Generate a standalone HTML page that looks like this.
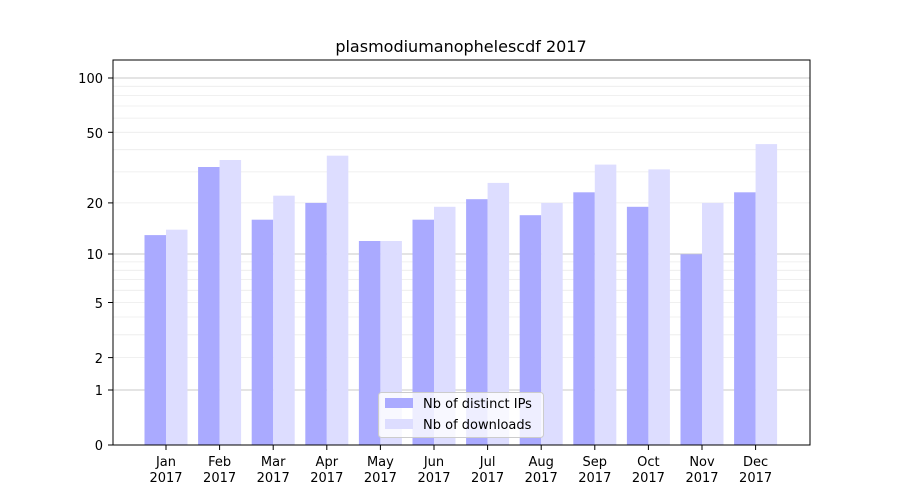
<!DOCTYPE html>
<html><head><meta charset="utf-8"><style>body{margin:0;background:#fff}svg{display:block}text{font-family:"DejaVu Sans","Liberation Sans",sans-serif;font-size:13px;fill:#000}</style></head><body>
<svg width="900" height="500" xmlns="http://www.w3.org/2000/svg">
<rect width="900" height="500" fill="#fff"/>
<g stroke="#ebebeb" stroke-width="0.8">
<line x1="113" x2="810" y1="357.6" y2="357.6"/><line x1="113" x2="810" y1="334.8" y2="334.8"/><line x1="113" x2="810" y1="317" y2="317"/><line x1="113" x2="810" y1="302.5" y2="302.5"/><line x1="113" x2="810" y1="290.3" y2="290.3"/><line x1="113" x2="810" y1="279.6" y2="279.6"/><line x1="113" x2="810" y1="270.3" y2="270.3"/><line x1="113" x2="810" y1="261.9" y2="261.9"/>
<line x1="113" x2="810" y1="202.9" y2="202.9"/><line x1="113" x2="810" y1="171.9" y2="171.9"/><line x1="113" x2="810" y1="149.7" y2="149.7"/><line x1="113" x2="810" y1="132.3" y2="132.3"/><line x1="113" x2="810" y1="118.1" y2="118.1"/><line x1="113" x2="810" y1="106" y2="106"/><line x1="113" x2="810" y1="95.6" y2="95.6"/><line x1="113" x2="810" y1="86.3" y2="86.3"/>
</g>
<g stroke="#c8c8c8" stroke-width="1">
<line x1="113" x2="810" y1="390" y2="390"/><line x1="113" x2="810" y1="254" y2="254"/><line x1="113" x2="810" y1="78" y2="78"/>
</g>
<g fill="#aaaaff">
<rect x="144.5" y="235.1" width="21.5" height="209.9"/>
<rect x="198.1" y="167" width="21.5" height="278"/>
<rect x="251.7" y="219.7" width="21.5" height="225.3"/>
<rect x="305.3" y="202.9" width="21.5" height="242.1"/>
<rect x="358.9" y="241" width="21.5" height="204"/>
<rect x="412.5" y="219.7" width="21.5" height="225.3"/>
<rect x="466.1" y="199.2" width="21.5" height="245.8"/>
<rect x="519.7" y="215.2" width="21.5" height="229.8"/>
<rect x="573.3" y="192.3" width="21.5" height="252.7"/>
<rect x="626.9" y="206.8" width="21.5" height="238.2"/>
<rect x="680.5" y="254.3" width="21.5" height="190.7"/>
<rect x="734.1" y="192.3" width="21.5" height="252.7"/>
</g>
<g fill="#ddddff">
<rect x="166" y="229.7" width="21.5" height="215.3"/>
<rect x="219.6" y="160" width="21.5" height="285"/>
<rect x="273.2" y="195.7" width="21.5" height="249.3"/>
<rect x="326.8" y="155.7" width="21.5" height="289.3"/>
<rect x="380.4" y="241" width="21.5" height="204"/>
<rect x="434" y="206.8" width="21.5" height="238.2"/>
<rect x="487.6" y="182.9" width="21.5" height="262.1"/>
<rect x="541.2" y="202.9" width="21.5" height="242.1"/>
<rect x="594.8" y="164.6" width="21.5" height="280.4"/>
<rect x="648.4" y="169.4" width="21.5" height="275.6"/>
<rect x="702" y="202.9" width="21.5" height="242.1"/>
<rect x="755.6" y="144.1" width="21.5" height="300.9"/>
</g>
<rect x="113" y="60" width="697" height="385" fill="none" stroke="#000" stroke-width="1"/>
<text x="461" y="52" text-anchor="middle" style="font-size:16px">plasmodiumanophelescdf 2017</text>
<g text-anchor="end">
<text x="103" y="450">0</text><text x="103" y="395">1</text><text x="103" y="363">2</text><text x="103" y="308">5</text><text x="103" y="259">10</text><text x="103" y="208">20</text><text x="103" y="138">50</text><text x="103" y="83">100</text>
</g>
<g stroke="#000"><line x1="108" x2="113" y1="445" y2="445"/><line x1="108" x2="113" y1="390" y2="390"/><line x1="108" x2="113" y1="357.6" y2="357.6"/><line x1="108" x2="113" y1="302.5" y2="302.5"/><line x1="108" x2="113" y1="254" y2="254"/><line x1="108" x2="113" y1="202.9" y2="202.9"/><line x1="108" x2="113" y1="132.3" y2="132.3"/><line x1="108" x2="113" y1="78" y2="78"/>
<line x1="166" x2="166" y1="445" y2="450"/><line x1="219.6" x2="219.6" y1="445" y2="450"/><line x1="273.2" x2="273.2" y1="445" y2="450"/><line x1="326.8" x2="326.8" y1="445" y2="450"/><line x1="380.4" x2="380.4" y1="445" y2="450"/><line x1="434" x2="434" y1="445" y2="450"/><line x1="487.6" x2="487.6" y1="445" y2="450"/><line x1="541.2" x2="541.2" y1="445" y2="450"/><line x1="594.8" x2="594.8" y1="445" y2="450"/><line x1="648.4" x2="648.4" y1="445" y2="450"/><line x1="702" x2="702" y1="445" y2="450"/><line x1="755.6" x2="755.6" y1="445" y2="450"/>
</g>
<g text-anchor="middle">
<text x="166" y="466">Jan</text><text x="166" y="482">2017</text>
<text x="219.6" y="466">Feb</text><text x="219.6" y="482">2017</text>
<text x="273.2" y="466">Mar</text><text x="273.2" y="482">2017</text>
<text x="326.8" y="466">Apr</text><text x="326.8" y="482">2017</text>
<text x="380.4" y="466">May</text><text x="380.4" y="482">2017</text>
<text x="434" y="466">Jun</text><text x="434" y="482">2017</text>
<text x="487.6" y="466">Jul</text><text x="487.6" y="482">2017</text>
<text x="541.2" y="466">Aug</text><text x="541.2" y="482">2017</text>
<text x="594.8" y="466">Sep</text><text x="594.8" y="482">2017</text>
<text x="648.4" y="466">Oct</text><text x="648.4" y="482">2017</text>
<text x="702" y="466">Nov</text><text x="702" y="482">2017</text>
<text x="755.6" y="466">Dec</text><text x="755.6" y="482">2017</text>
</g>
<rect x="378.5" y="392.5" width="165" height="45" rx="3" fill="#fff" fill-opacity="0.8" stroke="#ccc"/>
<rect x="385" y="398" width="28" height="10" fill="#aaaaff"/>
<rect x="385" y="419" width="28" height="10" fill="#ddddff"/>
<text x="423" y="408">Nb of distinct IPs</text>
<text x="423" y="429">Nb of downloads</text>
</svg>
</body></html>
